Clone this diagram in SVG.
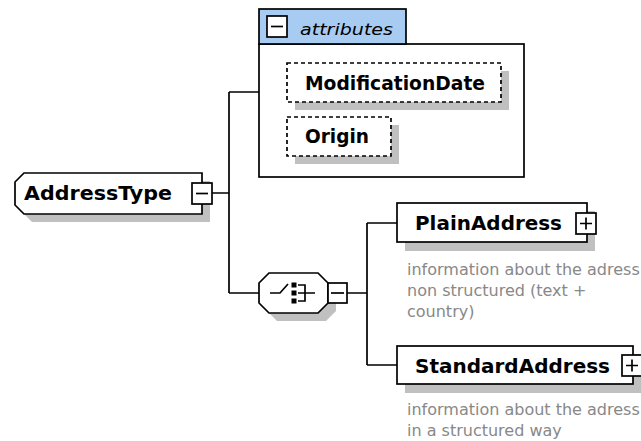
<svg xmlns="http://www.w3.org/2000/svg" width="641" height="441" viewBox="0 0 641 441">
<style>
.ln{stroke:#000;stroke-width:1.7;fill:none}
.box{fill:#fff;stroke:#000;stroke-width:1.7}
.sh{fill:#c0c0c0;stroke:none}
.dash{fill:#fff;stroke:#000;stroke-width:1.7;stroke-dasharray:4,3}
.lbl{font-family:"DejaVu Sans",Verdana,sans-serif;font-weight:bold;font-size:19px;fill:#000}
.it{font-family:"DejaVu Sans",Verdana,sans-serif;font-style:italic;font-size:16px;fill:#000}
.desc{font-family:"DejaVu Sans",Verdana,sans-serif;font-size:16px;fill:#888}
.tab{fill:#a8cbf2;stroke:#000;stroke-width:1.7}
</style>
<rect width="641" height="441" fill="#fff"/>
<g id="connectors">
<path class="ln" d="M212 193H229M229 92V293M229 92H259M229 293H259M347 293H367M367 223V365M367 223H397M367 365H397"/>
</g>
<g id="attributes">
<rect class="box" x="259" y="44" width="265" height="133"/>
<rect class="tab" x="259" y="9" width="147" height="35"/>
<rect class="box" x="267" y="16" width="20" height="21"/>
<path class="ln" d="M271 26.5H283"/>
<text class="it" x="300" y="35" textLength="93" lengthAdjust="spacingAndGlyphs">attributes</text>
</g>
<g id="ModificationDate">
<rect class="sh" x="295" y="71" width="214" height="39"/>
<rect class="dash" x="287" y="63" width="214" height="39"/>
<text class="lbl" x="305" y="90" textLength="180" lengthAdjust="spacingAndGlyphs">ModificationDate</text>
</g>
<g id="Origin">
<rect class="sh" x="295" y="125" width="104" height="39"/>
<rect class="dash" x="287" y="117" width="104" height="39"/>
<text class="lbl" x="305" y="143" textLength="64" lengthAdjust="spacingAndGlyphs">Origin</text>
</g>
<g id="AddressType">
<polygon class="sh" points="32,181 210,181 210,222 32,222 23,213 23,190"/>
<polygon class="box" points="24,173 202,173 202,214 24,214 15,205 15,182"/>
<text class="lbl" x="24" y="200" textLength="148" lengthAdjust="spacingAndGlyphs">AddressType</text>
<rect class="box" x="192" y="183" width="20" height="21"/>
<path class="ln" d="M196 193.5H208"/>
</g>
<g id="choice">
<polygon class="sh" points="277,281 326,281 336,291 336,311 326,321 277,321 267,311 267,291"/>
<polygon class="box" points="269,273 318,273 328,283 328,303 318,313 269,313 259,303 259,283"/>
<path class="ln" d="M270 293H280L288 284M298 285H305V301H298M298 293H315"/>
<rect x="291.5" y="282.5" width="5" height="5" fill="#000"/>
<rect x="291.5" y="290.5" width="5" height="5" fill="#000"/>
<rect x="291.5" y="298.5" width="5" height="5" fill="#000"/>
<rect class="box" x="328" y="283" width="19" height="20"/>
<path class="ln" d="M331 293H344"/>
</g>
<g id="PlainAddress">
<rect class="sh" x="405" y="211" width="190" height="40"/>
<rect class="box" x="397" y="203" width="190" height="39"/>
<text class="lbl" x="415" y="230" textLength="147" lengthAdjust="spacingAndGlyphs">PlainAddress</text>
<rect class="box" x="576" y="213" width="20" height="21"/>
<path class="ln" d="M580 223.5H592M586 217.5V229.5"/>
<text class="desc" x="407" y="275">information about the adress</text>
<text class="desc" x="407" y="296">non structured (text +</text>
<text class="desc" x="407" y="317">country)</text>
</g>
<g id="StandardAddress">
<rect class="sh" x="405" y="354" width="236" height="39"/>
<rect class="box" x="397" y="346" width="236" height="38"/>
<text class="lbl" x="415" y="373" textLength="195" lengthAdjust="spacingAndGlyphs">StandardAddress</text>
<rect class="box" x="622" y="355" width="20" height="21"/>
<path class="ln" d="M626 365.5H638M632 359.5V371.5"/>
<text class="desc" x="407" y="415">information about the adress</text>
<text class="desc" x="407" y="436">in a structured way</text>
</g>
</svg>
